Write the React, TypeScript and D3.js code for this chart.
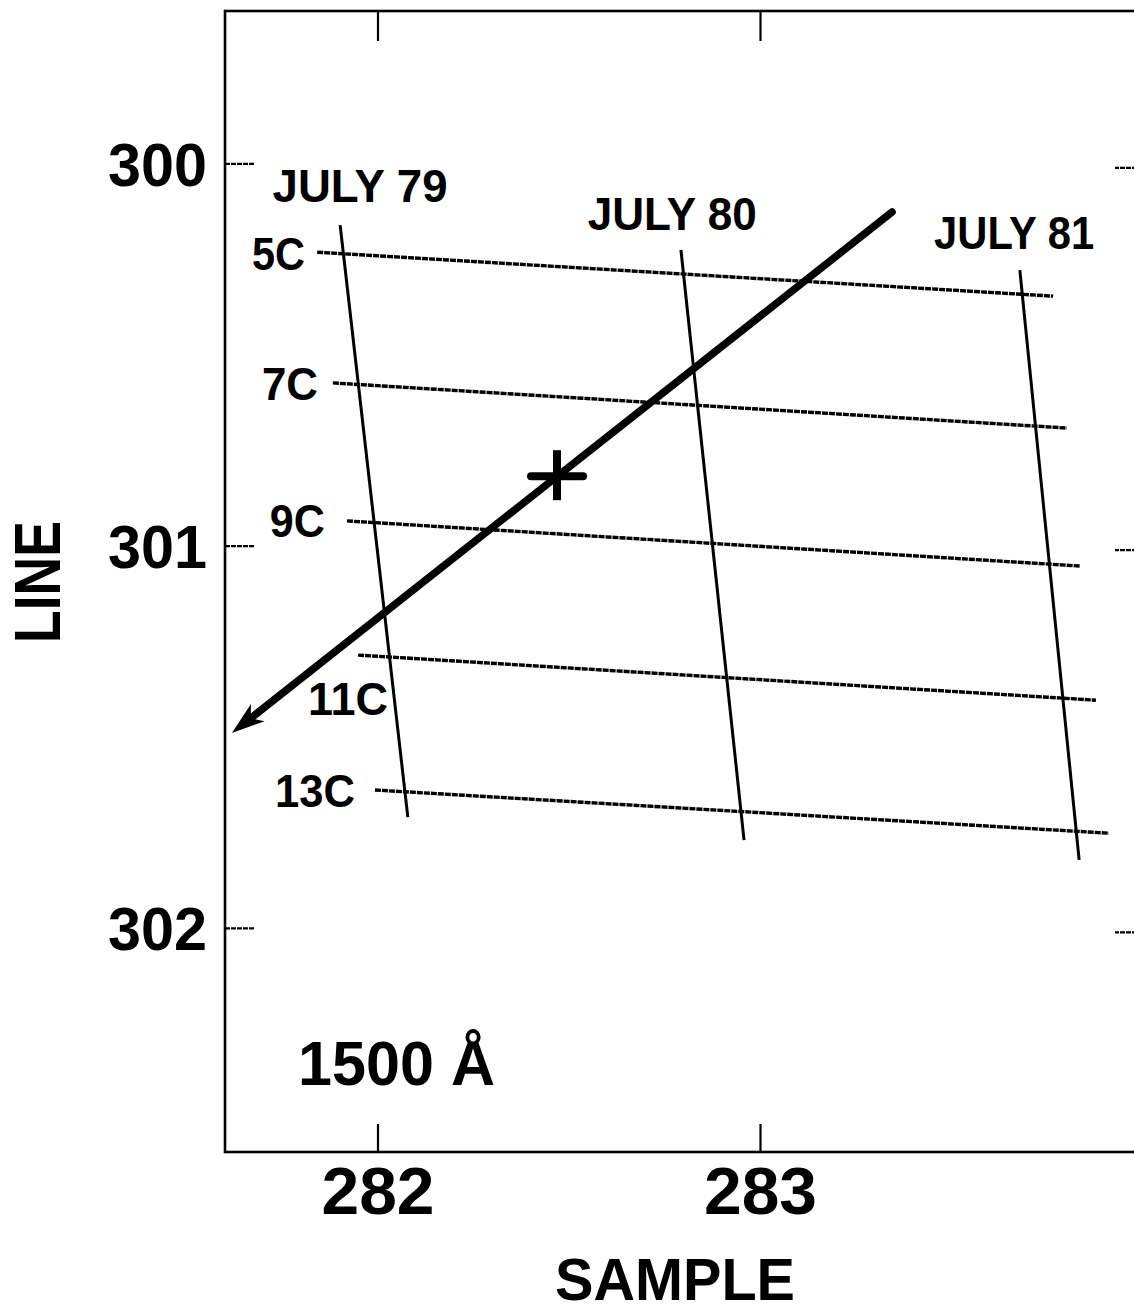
import React from "react";
import * as d3 from "d3";

// ---- Data (SAMPLE / LINE coordinates) ----
const xTicks = [282, 283];
const yTicks = [300, 301, 302];

// Constant-epoch lines (nearly horizontal): name, start [sample, line], end [sample, line]
const cLineNames = ["5C", "7C", "9C", "11C", "13C"];
const cLineStart: [number, number][] = [
  [281.841, 300.231],
  [281.882, 300.573],
  [281.919, 300.934],
  [281.948, 301.285],
  [281.992, 301.638],
];
const cLineEnd: [number, number][] = [
  [283.765, 300.346],
  [283.801, 300.691],
  [283.835, 301.052],
  [283.877, 301.403],
  [283.911, 301.751],
];
// Label anchors for the C lines
const cLabelPos: [number, number][] = [
  [281.809, 300.278],
  [281.843, 300.618],
  [281.861, 300.976],
  [282.026, 301.442],
  [281.940, 301.683],
];

// Date lines (nearly vertical)
const dateNames = ["JULY 79", "JULY 80", "JULY 81"];
const dateStart: [number, number][] = [
  [281.901, 300.160],
  [282.792, 300.225],
  [283.678, 300.278],
];
const dateEnd: [number, number][] = [
  [282.078, 301.709],
  [282.957, 301.769],
  [283.833, 301.821],
];
const dateLabelPos: [number, number][] = [
  [281.953, 300.100],
  [282.769, 300.173],
  [283.663, 300.223],
];

// Motion arrow and reference cross
const arrowFrom: [number, number] = [283.344, 300.126];
const arrowTo: [number, number] = [281.618, 301.489];
const crossAt: [number, number] = [282.468, 300.817];

const wavelengthLabel = "1500 Å";
const wavelengthPos: [number, number] = [281.791, 302.410];

const xDomain: [number, number] = [281.6, 284.0];
const yDomain: [number, number] = [299.6, 302.585];

const W = 1134;
const H = 1315;
const FONT = "'Liberation Sans', Arial, Helvetica, sans-serif";

export default function App() {
  const frame = { left: 225, right: 1143, top: 11, bottom: 1152 };
  const x = d3.scaleLinear().domain(xDomain).range([frame.left, frame.right]);
  const y = d3.scaleLinear().domain(yDomain).range([frame.top, frame.bottom]);

  const line = d3
    .line<[number, number]>()
    .x((d) => x(d[0]))
    .y((d) => y(d[1]));

  // arrowhead geometry
  const ax0 = x(arrowFrom[0]);
  const ay0 = y(arrowFrom[1]);
  const ax1 = x(arrowTo[0]);
  const ay1 = y(arrowTo[1]);
  const len = Math.hypot(ax0 - ax1, ay0 - ay1);
  const ux = (ax0 - ax1) / len;
  const uy = (ay0 - ay1) / len;
  const px = -uy;
  const py = ux;
  const headLen = 33;
  const headHalf = 11;
  const notch = 24;
  const head = [
    [ax1, ay1],
    [ax1 + ux * headLen + px * headHalf, ay1 + uy * headLen + py * headHalf],
    [ax1 + ux * notch, ay1 + uy * notch],
    [ax1 + ux * headLen - px * headHalf, ay1 + uy * headLen - py * headHalf],
  ];
  const shaftEndX = ax1 + ux * (notch - 2);
  const shaftEndY = ay1 + uy * (notch - 2);

  const cx = x(crossAt[0]);
  const cy = y(crossAt[1]);

  const cLabelWidths = [53, 56, 55, 80, 80];
  const dateLabelWidths = [175, 169, 160];

  return (
    <svg
      width={W}
      height={H}
      style={{ position: "absolute", left: 0, top: 0, background: "#fff" }}
      fontFamily={FONT}
    >
      <rect x={0} y={0} width={W} height={H} fill="#fff" />
      {/* frame */}
      <rect
        x={frame.left}
        y={frame.top}
        width={frame.right - frame.left}
        height={frame.bottom - frame.top}
        fill="none"
        stroke="#000"
        strokeWidth={2.6}
      />
      {/* ticks */}
      {xTicks.map((t) => (
        <g key={"xt" + t}>
          <line x1={x(t)} x2={x(t)} y1={frame.top} y2={frame.top + 30} stroke="#000" strokeWidth={2.2} />
          <line x1={x(t)} x2={x(t)} y1={frame.bottom} y2={frame.bottom - 28} stroke="#000" strokeWidth={2.2} />
          <text
            x={x(t)}
            y={frame.bottom + 62}
            textAnchor="middle"
            fontSize={66}
            fontWeight="bold"
            textLength={113}
            lengthAdjust="spacingAndGlyphs"
          >
            {t}
          </text>
        </g>
      ))}
      {yTicks.map((t) => (
        <g key={"yt" + t}>
          <line x1={frame.left} x2={frame.left + 30} y1={y(t)} y2={y(t)} stroke="#000" strokeWidth={2.2} strokeDasharray="5 1" />
          <line x1={frame.right} x2={frame.right - 28} y1={y(t) + 4} y2={y(t) + 4} stroke="#000" strokeWidth={2.2} strokeDasharray="5 1" />
          <text
            x={207}
            y={y(t) + 22}
            textAnchor="end"
            fontSize={62}
            fontWeight="bold"
            textLength={99}
            lengthAdjust="spacingAndGlyphs"
          >
            {t}
          </text>
        </g>
      ))}
      {/* axis titles */}
      <text
        x={675}
        y={1300}
        textAnchor="middle"
        fontSize={60}
        fontWeight="bold"
        textLength={240}
        lengthAdjust="spacingAndGlyphs"
      >
        SAMPLE
      </text>
      <text
        transform="translate(60,582) rotate(-90)"
        textAnchor="middle"
        fontSize={64}
        fontWeight="bold"
        textLength={122}
        lengthAdjust="spacingAndGlyphs"
      >
        LINE
      </text>

      {/* C lines */}
      {cLineNames.map((n, i) => (
        <path
          key={"c" + n}
          d={line([cLineStart[i], cLineEnd[i]]) || ""}
          stroke="#000"
          strokeWidth={3.4}
          strokeDasharray="6 1"
          fill="none"
        />
      ))}
      {cLineNames.map((n, i) => (
        <text
          key={"cl" + n}
          x={x(cLabelPos[i][0])}
          y={y(cLabelPos[i][1])}
          textAnchor="end"
          fontSize={46}
          fontWeight="bold"
          textLength={cLabelWidths[i]}
          lengthAdjust="spacingAndGlyphs"
        >
          {n}
        </text>
      ))}

      {/* date lines */}
      {dateNames.map((n, i) => (
        <path
          key={"d" + n}
          d={line([dateStart[i], dateEnd[i]]) || ""}
          stroke="#000"
          strokeWidth={3}
          fill="none"
        />
      ))}
      {dateNames.map((n, i) => (
        <text
          key={"dl" + n}
          x={x(dateLabelPos[i][0])}
          y={y(dateLabelPos[i][1])}
          textAnchor="middle"
          fontSize={46}
          fontWeight="bold"
          textLength={dateLabelWidths[i]}
          lengthAdjust="spacingAndGlyphs"
        >
          {n}
        </text>
      ))}

      {/* arrow */}
      <line
        x1={ax0}
        y1={ay0}
        x2={shaftEndX}
        y2={shaftEndY}
        stroke="#000"
        strokeWidth={7.5}
        strokeLinecap="round"
      />
      <polygon points={head.map((p) => p.join(",")).join(" ")} fill="#000" />

      {/* cross */}
      <line x1={cx} x2={cx} y1={cy - 26} y2={cy + 24} stroke="#000" strokeWidth={8} />
      <line x1={cx - 26} x2={cx + 26} y1={cy} y2={cy} stroke="#000" strokeWidth={8} strokeLinecap="round" />

      {/* wavelength */}
      <text
        x={x(wavelengthPos[0])}
        y={y(wavelengthPos[1])}
        fontSize={63}
        fontWeight="bold"
        textLength={197}
        lengthAdjust="spacingAndGlyphs"
      >
        {wavelengthLabel}
      </text>
    </svg>
  );
}
